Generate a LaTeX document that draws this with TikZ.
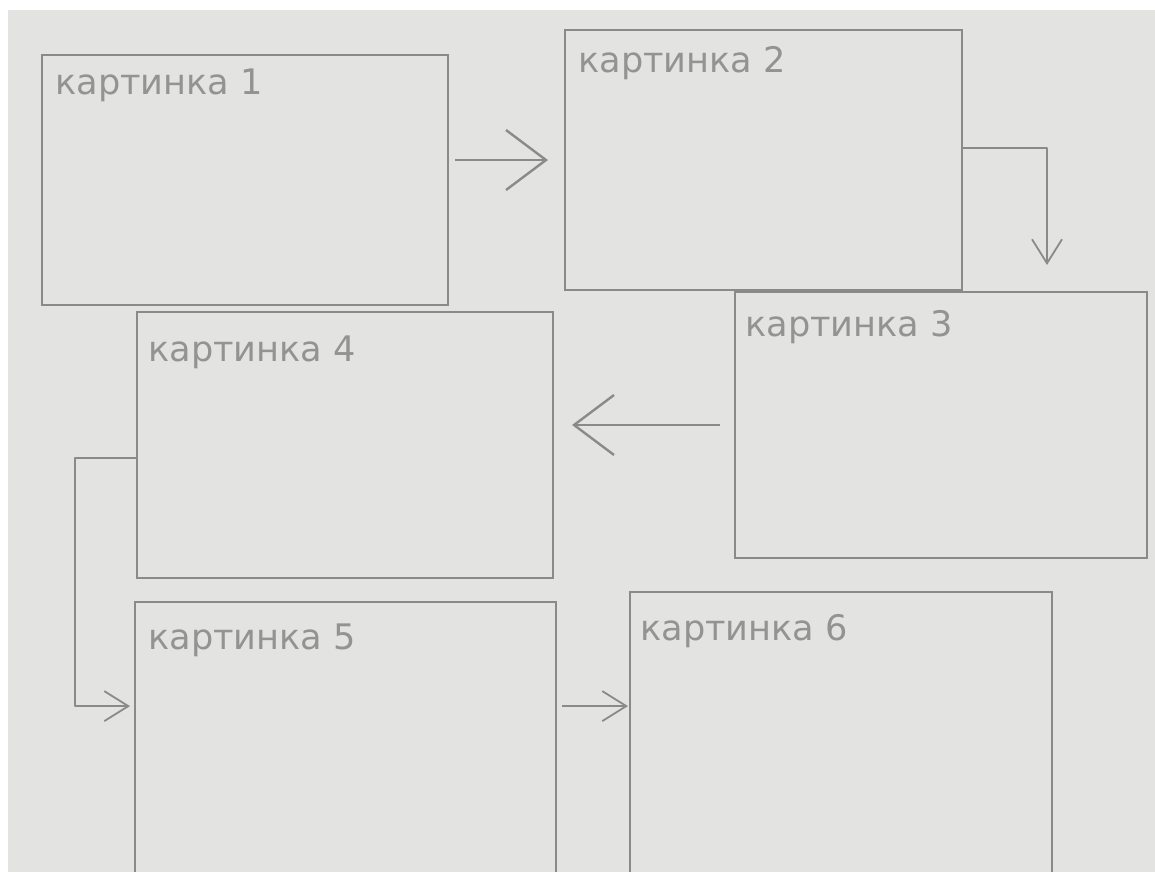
\documentclass[tikz,border=0pt]{standalone}
\usepackage{fontspec,xcolor,tikz}
\usetikzlibrary{arrows.meta,calc}
\newfontfamily\handfont{DejaVu Sans}
\definecolor{paper}{HTML}{E3E3E1}
\definecolor{pencil}{HTML}{8A8A8A}
\definecolor{pencilhell}{HTML}{939393}
\newcommand{\bildfont}{\handfont\fontsize{25}{30}\selectfont}
\tikzset{bild/.style={draw=pencil,line width=0.45mm,inner sep=0,outer sep=0},
  bildname/.style={anchor=north west,inner sep=0,text=pencilhell,font=\bildfont},
  pfeil/.style={pencil,line width=0.45mm,line join=round},
  grosspfeil/.style={pfeil,-{Straight Barb[length=10mm,width=15mm,line width=0.6mm]}},
  kleinpfeil/.style={pfeil,-{Straight Barb[length=6mm,width=7.5mm]}}}

\begin{document}
\begin{tikzpicture}[x=0.25mm,y=-0.25mm]
\useasboundingbox (0,0) rectangle (1155,872);
\fill[white] (0,0) rectangle (1155,872);
\fill[paper] (8,10) rectangle (1155,872);
\node[bild,minimum width=101.5mm,minimum height=62.5mm] (bild1) at (245,180) {};
\node[bild,minimum width=99.25mm,minimum height=65mm] (bild2) at (763.5,160) {};
\node[bild,minimum width=103mm,minimum height=66.5mm] (bild3) at (941,425) {};
\node[bild,minimum width=104mm,minimum height=66.5mm] (bild4) at (345,445) {};
\node[bild,minimum width=105.25mm,minimum height=68.25mm] (bild5) at (345.5,738.5) {};
\node[bild,minimum width=105.5mm,minimum height=70.75mm] (bild6) at (841,733.5) {};
\node[bildname] (name1) at ($(bild1.north west)+(13,14)$) {картинка 1};
\node[bildname] (name2) at ($(bild2.north west)+(13,16)$) {картинка 2};
\node[bildname] (name3) at ($(bild3.north west)+(10,18)$) {картинка 3};
\node[bildname] (name4) at ($(bild4.north west)+(11,24)$) {картинка 4};
\node[bildname] (name5) at ($(bild5.north west)+(13,22)$) {картинка 5};
\node[bildname] (name6) at ($(bild6.north west)+(10,22)$) {картинка 6};
\draw[grosspfeil,shorten <=1.75mm,shorten >=4.25mm] (bild1.east |- bild2.west) -- (bild2.west);
\draw[kleinpfeil] ([yshift=3mm]bild2.east) -| ([xshift=26.5mm,yshift=6.75mm]bild3.north);
\draw[grosspfeil,shorten <=3.75mm,shorten >=4.75mm] (bild3.west) -- (bild3.west -| bild4.east);
\draw[kleinpfeil] ([yshift=-3.25mm]bild4.west) -- ++(-15.5mm,0) |- ([xshift=-1.25mm,yshift=8.1mm]bild5.west);
\draw[kleinpfeil,shorten <=1.5mm,shorten >=0.5mm] ([yshift=8.1mm]bild5.east) -- ([yshift=8.1mm]bild5.east -| bild6.west);
\end{tikzpicture}
\end{document}
